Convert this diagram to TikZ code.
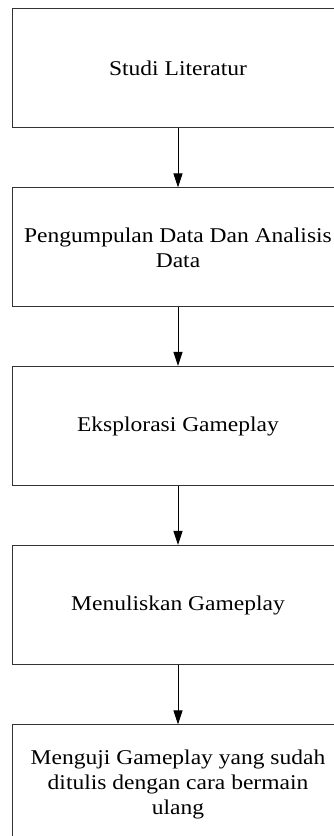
\documentclass[tikz,border=0pt]{standalone}
\usepackage{fontspec}
\usetikzlibrary{arrows.meta}
\newfontfamily\boxfont[FakeStretch=1.12]{Liberation Serif}
\begin{document}
\begin{tikzpicture}[x=1pt,y=1pt,
  stepbox/.style={draw=black!80, line width=1pt, minimum width=332pt, minimum height=119pt,
    inner sep=0pt, align=center, font=\boxfont\fontsize{21pt}{25pt}\selectfont},
  flow/.style={draw=black, line width=1pt, -{Triangle[width=9pt,length=14pt]}}]
\useasboundingbox (0,0) rectangle (334,836);
\clip (0,0) rectangle (334,836);
\fill[white] (0,0) rectangle (334,836);
\node[stepbox] (b1) at (178,767.5) {Studi Literatur};
\node[stepbox] (b2) at (178,588.5) {Pengumpulan Data Dan Analisis\\Data};
\node[stepbox] (b3) at (178,410) {Eksplorasi Gameplay};
\node[stepbox] (b4) at (178,231) {Menuliskan Gameplay};
\node[stepbox] (b5) at (178,51.5) {Menguji Gameplay yang sudah\\ditulis dengan cara bermain\\ulang};
\draw[flow] (b1.south) -- (b2.north);
\draw[flow] (b2.south) -- (b3.north);
\draw[flow] (b3.south) -- (b4.north);
\draw[flow] (b4.south) -- (b5.north);
\end{tikzpicture}
\end{document}
